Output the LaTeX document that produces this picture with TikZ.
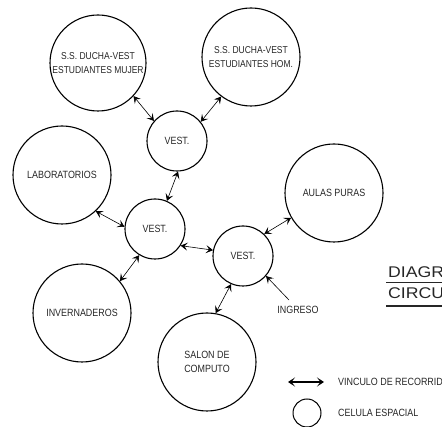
\documentclass[tikz,border=0pt]{standalone}
\usepackage{fontspec}
\setmainfont{Liberation Sans}
\newfontfamily\hand[FakeStretch=0.85]{Liberation Sans}
\newfontfamily\wide[FakeStretch=1.14]{Liberation Sans}
\usetikzlibrary{arrows.meta}

\tikzset{
  cell/.style={circle, draw, line width=1.1pt, inner sep=0pt, align=center,
    font=\hand\fontsize{10.5}{13.5}\selectfont, text=black!85},
  bigcell/.style={cell, minimum size=98pt},
  vest/.style={cell, minimum size=60pt},
  barb/.tip={Stealth[length=7pt, width=8pt, inset=3.2pt]},
  link/.style={draw, line width=0.6pt, {barb}-{barb}},
  entry/.style={draw, line width=0.6pt, -{barb}},
  lbl/.style={font=\hand\fontsize{10.5}{13}\selectfont, text=black!85, inner sep=0pt},
  title/.style={font=\wide\fontsize{15.5}{18}\selectfont, text=black!85, inner sep=0pt},
  rule/.style={line width=1.3pt, black!85}
}

\begin{document}
\begin{tikzpicture}[x=1pt, y=-1pt]
\useasboundingbox (0,0) rectangle (442,427);
\clip (0,0) rectangle (442,427);

% spatial cells
\node[bigcell, minimum size=96pt, font=\hand\fontsize{10}{13.5}\selectfont] (mujer) at (98,63)
  {S.S. DUCHA-VEST\\ESTUDIANTES MUJER};
\node[bigcell, font=\hand\fontsize{10}{13.5}\selectfont] (hom) at (251,57)
  {S.S. DUCHA-VEST\\ESTUDIANTES HOM.};
\node[vest] (v1) at (177,141) {VEST.};
\node[bigcell] (lab) at (62,175) {LABORATORIOS};
\node[bigcell] (aulas) at (334,193) {AULAS PURAS};
\node[vest] (v2) at (155,229) {VEST.};
\node[vest] (v3) at (243,256) {VEST.};
\node[bigcell] (inv) at (82,313) {INVERNADEROS};
\node[bigcell] (salon) at (207,362) {SALON DE\\COMPUTO};

% circulation links
\draw[link] (mujer.-43) -- (v1.139);
\draw[link] (hom.-127) -- (v1.39);
\draw[link] (v1.-88) -- (v2.67);
\draw[link] (lab.-47) -- (v2.176);
\draw[link] (v2.239) -- (inv.40);
\draw[link] (v2.-33) -- (v3.169);
\draw[link] (v3.46) -- (aulas.210);
\draw[link] (v3.-113) -- (salon.80);

% entrance
\node[lbl] (ingreso) at (298,310) {INGRESO};
\coordinate (ing) at (289,300);
\draw[entry] (ing) -- (v3.-41);

% title
\node[title, anchor=base west] (t1) at (388,278) {DIAGRAMA DE};
\node[title, anchor=base west] (t2) at (388,299) {CIRCULACION};
\draw[rule] ([xshift=-2pt, yshift=-4.5pt]t1.base west) -- ([yshift=-4.5pt]t1.base east);
\draw[rule] ([xshift=-2pt, yshift=-7pt]t2.base west) -- ([yshift=-7pt]t2.base east);

% legend
\coordinate (la) at (288,382);
\coordinate (lb) at (324,382);
\draw[line width=1.4pt, {Stealth[length=7pt, width=9pt, inset=3.5pt]}-{Stealth[length=7pt, width=9pt, inset=3.5pt]}] (la) -- (lb);
\node[lbl, anchor=west] (lt1) at (338,382) {VINCULO DE RECORRIDO};
\node[circle, draw, line width=1pt, minimum size=28pt, inner sep=0pt] (lc) at (307,413) {};
\node[lbl, anchor=west] (lt2) at (338,413) {CELULA ESPACIAL};
\end{tikzpicture}
\end{document}
